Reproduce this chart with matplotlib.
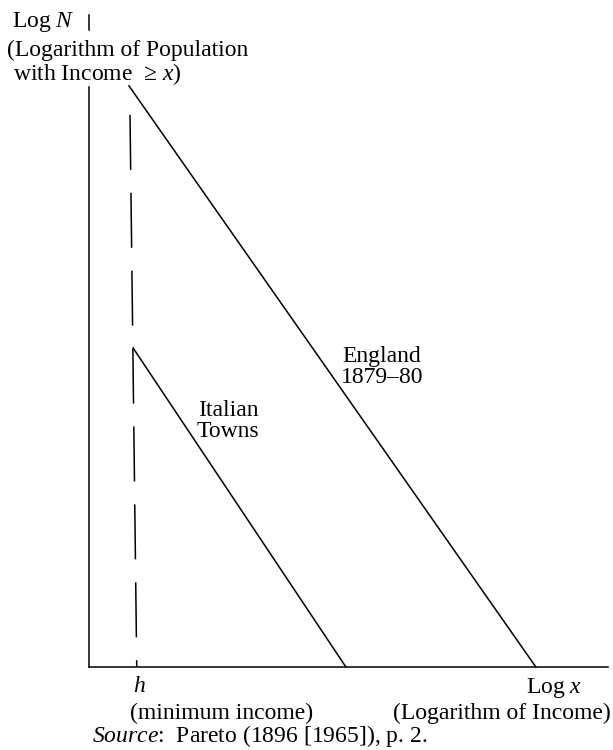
import matplotlib
matplotlib.use("Agg")
import matplotlib.pyplot as plt

# Pareto income distribution sketch (schematic, axes in arbitrary log units)
plt.rcParams['font.family'] = ['Liberation Serif', 'DejaVu Serif']
plt.rcParams['mathtext.fontset'] = 'custom'
plt.rcParams['mathtext.rm'] = 'Liberation Serif'
plt.rcParams['mathtext.it'] = 'Liberation Serif:italic'

# data (log x, log N)
england_x = [0.77, 8.61]
england_y = [10.02, 0.0]
italy_x = [0.85, 4.95]
italy_y = [5.5, 0.0]
h_x = [0.79, 0.92]          # minimum income line, slightly off vertical as in the print
h_y = [9.52, 0.0]

W, H = 613, 750
fig = plt.figure(figsize=(W / 100, H / 100), dpi=100)
ax = fig.add_axes([89 / W, (H - 667) / H, 519 / W, 580 / H])
ax.set_xlim(0, 10)
ax.set_ylim(0, 10)
ax.axis('off')

lw = 1.1
# axes
ax.plot([0, 10], [0, 0], color='black', lw=lw, clip_on=False)
ax.plot([0, 0], [0, 10.0], color='black', lw=lw, clip_on=False)
ax.plot([0, 0], [10.98, 11.25], color='black', lw=lw, clip_on=False)

ax.plot(england_x, england_y, color='black', lw=lw, clip_on=False)
ax.plot(italy_x, italy_y, color='black', lw=lw, clip_on=False)
ax.plot(h_x, h_y, color='black', lw=lw, dashes=(36, 15), clip_on=False)


def px(x, y):
    return x / W, 1 - y / H


fs = 17
kw = dict(fontsize=fs, va='baseline')
fig.text(*px(12, 27), r'Log $N$', ha='left', **kw)
fig.text(*px(7, 56), '(Logarithm of Population', ha='left', **kw)
fig.text(*px(13, 80), r'with Income  ≥ $x$)', ha='left', **kw)

fig.text(*px(382, 362), 'England', ha='center', **kw)
fig.text(*px(382, 383), '1879–80', ha='center', **kw)
fig.text(*px(228, 416), 'Italian', ha='center', **kw)
fig.text(*px(228, 437), 'Towns', ha='center', **kw)

fig.text(*px(139, 692), r'$h$', ha='center', **kw)
fig.text(*px(554, 693), r'Log $x$', ha='center', **kw)
fig.text(*px(222, 719), '(minimum income)', ha='center', **kw)
fig.text(*px(393, 719), '(Logarithm of Income)', ha='left', **kw)
fig.text(*px(92, 742), r'$Source$:  Pareto (1896 [1965]), p. 2.', ha='left', **kw)

fig.savefig('out.png', dpi=100, facecolor='white')
